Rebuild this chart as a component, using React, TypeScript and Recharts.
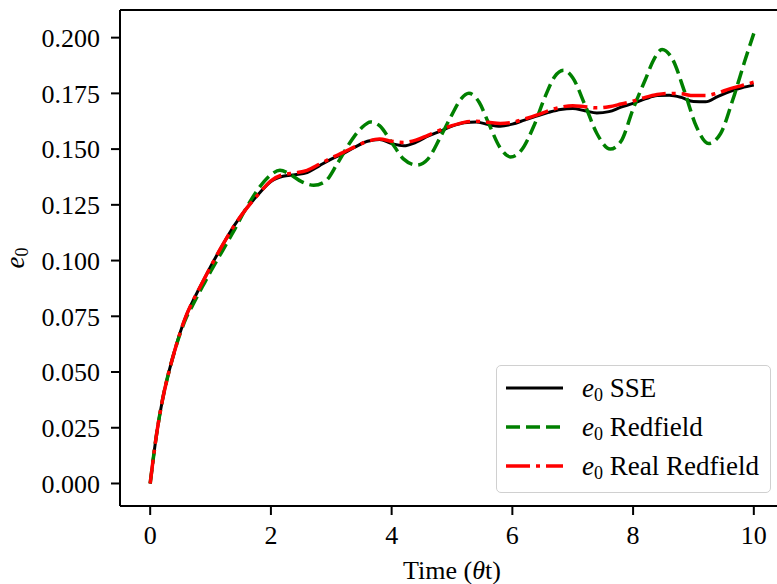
import React from "react";
import { LineChart, Line, XAxis, YAxis, ReferenceLine } from "recharts";

// values
const tGrid = [
  0, 0.1, 0.2, 0.3, 0.4, 0.5, 0.6, 0.7, 0.8, 0.9, 1.0, 1.2, 1.4, 1.6, 1.8, 2.0, 2.2, 2.4, 2.6, 2.8, 3.0,
  3.2, 3.4, 3.6, 3.8, 4.0, 4.2, 4.4, 4.6, 4.8, 5.0, 5.2, 5.4, 5.6, 5.8, 6.0, 6.2, 6.4, 6.6, 6.8, 7.0,
  7.2, 7.4, 7.6, 7.8, 8.0, 8.2, 8.4, 8.6, 8.8, 9.0, 9.2, 9.4, 9.6, 9.8, 10.0,
];
const sseValues = [
  0, 0.021, 0.037, 0.049, 0.059, 0.068, 0.0755, 0.0815, 0.0868, 0.092, 0.0972, 0.107, 0.116, 0.1235, 0.13,
  0.1355, 0.1378, 0.1385, 0.1395, 0.1425, 0.1455, 0.148, 0.151, 0.1535, 0.1543, 0.1525, 0.1515, 0.153,
  0.1558, 0.158, 0.1603, 0.1618, 0.1622, 0.161, 0.1603, 0.1612, 0.163, 0.1648, 0.1665, 0.1678, 0.1682,
  0.1672, 0.1662, 0.1668, 0.1688, 0.1705, 0.1725, 0.174, 0.1742, 0.1732, 0.1713, 0.1712, 0.1735, 0.1758,
  0.1775, 0.1787,
];
const realRedfieldValues = [
  0, 0.021, 0.037, 0.049, 0.059, 0.068, 0.0755, 0.0815, 0.0868, 0.092, 0.0972, 0.107, 0.116, 0.1235, 0.13,
  0.1358, 0.1385, 0.1393, 0.1405, 0.1432, 0.146, 0.1485, 0.1512, 0.1535, 0.1545, 0.1535, 0.153, 0.154,
  0.1562, 0.1585, 0.1605, 0.162, 0.1625, 0.162, 0.1615, 0.162, 0.1635, 0.1652, 0.1672, 0.1688, 0.1695,
  0.169, 0.1685, 0.169, 0.1702, 0.1715, 0.1732, 0.1745, 0.175, 0.1748, 0.174, 0.174, 0.1752, 0.177,
  0.1785, 0.18,
];

const tRedfield = [
  0, 0.1, 0.2, 0.3, 0.4, 0.5, 0.6, 0.7, 0.8, 0.9, 1.0, 1.2, 1.4, 1.6, 1.8, 2.0, 2.15, 2.3, 2.5, 2.71, 2.9,
  3.1, 3.3, 3.5, 3.65, 3.8, 4.0, 4.2, 4.42, 4.6, 4.8, 5.0, 5.15, 5.28, 5.45, 5.6, 5.8, 5.97, 6.15, 6.35,
  6.55, 6.7, 6.85, 7.0, 7.2, 7.4, 7.62, 7.8, 8.0, 8.2, 8.35, 8.48, 8.65, 8.85, 9.05, 9.25, 9.45, 9.65,
  9.85, 10.0,
];
const redfieldValues = [
  0, 0.021, 0.037, 0.049, 0.059, 0.0675, 0.0745, 0.0798, 0.085, 0.09, 0.095, 0.1045, 0.114, 0.124, 0.1325,
  0.1385, 0.1405, 0.139, 0.1355, 0.1338, 0.1355, 0.1435, 0.1525, 0.1595, 0.1622, 0.1605, 0.153, 0.1455,
  0.1428, 0.1455, 0.155, 0.1655, 0.1725, 0.175, 0.171, 0.162, 0.1505, 0.1465, 0.1495, 0.16, 0.174,
  0.1825, 0.1854, 0.182, 0.17, 0.157, 0.15, 0.1535, 0.168, 0.181, 0.1905, 0.1947, 0.1905, 0.176, 0.16,
  0.1525, 0.157, 0.172, 0.1895, 0.2019,
];

const xTicks = [0, 2, 4, 6, 8, 10];
const yTicks = [0, 0.025, 0.05, 0.075, 0.1, 0.125, 0.15, 0.175, 0.2];

const sseData = tGrid.map((t, i) => ({ t, v: sseValues[i] }));
const realData = tGrid.map((t, i) => ({ t, v: realRedfieldValues[i] }));
const redfieldData = tRedfield.map((t, i) => ({ t, v: redfieldValues[i] }));

const X_MIN = -0.5;
const X_MAX = 10.5;
const Y_MIN = -0.0101;
const Y_MAX = 0.2124;

const font = "'Liberation Serif', 'Times New Roman', serif";
const fs = 26;

const legendItems = [
  { label: "SSE", color: "#000000", dash: undefined, width: 3 },
  { label: "Redfield", color: "#008000", dash: "14 6", width: 3.5 },
  { label: "Real Redfield", color: "#ff0000", dash: "24 6 4 6", width: 3.5 },
];

function YLabel() {
  return (
    <text
      x={24}
      y={258}
      transform="rotate(-90 24 258)"
      textAnchor="middle"
      fontFamily={font}
      fontSize={27}
      fill="#000"
    >
      <tspan fontStyle="italic">e</tspan>
      <tspan fontSize={18} dy={4}>0</tspan>
    </text>
  );
}

export default function App() {
  return (
    <div
      style={{
        position: "fixed",
        left: 0,
        top: 0,
        width: 777,
        height: 584,
        overflow: "hidden",
        background: "#fff",
      }}
    >
      <LineChart width={790} height={584} margin={{ top: 10, right: 6, left: 0, bottom: 0 }}>
        <XAxis
          dataKey="t"
          type="number"
          domain={[X_MIN, X_MAX]}
          ticks={xTicks}
          allowDataOverflow
          height={78}
          tickSize={9}
          tickMargin={11}
          axisLine={{ stroke: "#000", strokeWidth: 2 }}
          tickLine={{ stroke: "#000", strokeWidth: 2 }}
          tick={{ fill: "#000", fontSize: fs, fontFamily: font }}
          label={{
            value: "Time (θt)",
            content: () => (
              <text x={452} y={579} textAnchor="middle" fontFamily={font} fontSize={fs} fill="#000">
                Time (<tspan fontStyle="italic">θ</tspan>t)
              </text>
            ),
          }}
        />
        <YAxis
          type="number"
          domain={[Y_MIN, Y_MAX]}
          ticks={yTicks}
          allowDataOverflow
          width={120}
          tickSize={9}
          tickMargin={11}
          axisLine={{ stroke: "#000", strokeWidth: 2 }}
          tickLine={{ stroke: "#000", strokeWidth: 2 }}
          tick={{ fill: "#000", fontSize: fs, fontFamily: font }}
          tickFormatter={(v: number) => v.toFixed(3)}
          label={{ value: "e0", content: () => <YLabel /> }}
        />
        <ReferenceLine y={Y_MAX} stroke="#000" strokeWidth={2} />
        <ReferenceLine x={X_MAX} stroke="#000" strokeWidth={2} />
        <Line
          data={sseData}
          dataKey="v"
          type="monotone"
          stroke="#000000"
          strokeWidth={3}
          dot={false}
          isAnimationActive={false}
        />
        <Line
          data={redfieldData}
          dataKey="v"
          type="monotone"
          stroke="#008000"
          strokeWidth={3.5}
          strokeDasharray="14 6"
          dot={false}
          isAnimationActive={false}
        />
        <Line
          data={realData}
          dataKey="v"
          type="monotone"
          stroke="#ff0000"
          strokeWidth={3.5}
          strokeDasharray="24 6 4 6"
          dot={false}
          isAnimationActive={false}
        />
      </LineChart>
      <div
        style={{
          position: "absolute",
          left: 496,
          top: 365,
          width: 275,
          height: 128,
          boxSizing: "border-box",
          border: "1.5px solid #d0d0d0",
          borderRadius: 5,
          background: "rgba(255,255,255,0.8)",
        }}
      >
        <svg width={275} height={128}>
          {legendItems.map((item, i) => {
            const y = 22 + i * 39;
            return (
              <g key={item.label}>
                <line
                  x1={9}
                  x2={66}
                  y1={y}
                  y2={y}
                  stroke={item.color}
                  strokeWidth={item.width}
                  strokeDasharray={item.dash}
                />
                <text x={85} y={y + 9} fontFamily={font} fontSize={27} fill="#000">
                  <tspan fontStyle="italic">e</tspan>
                  <tspan fontSize={18} dy={4}>0</tspan>
                  <tspan dy={-4}> {item.label}</tspan>
                </text>
              </g>
            );
          })}
        </svg>
      </div>
    </div>
  );
}
